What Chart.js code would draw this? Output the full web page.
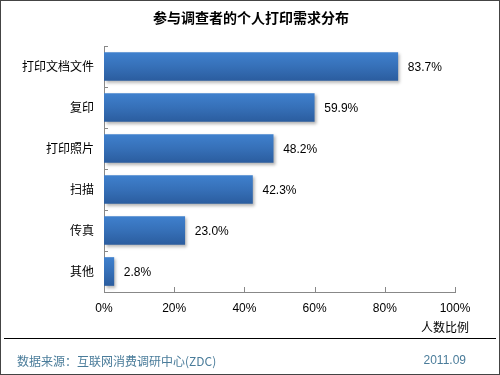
<!DOCTYPE html>
<html>
<head>
<meta charset="utf-8">
<script src="https://cdn.jsdelivr.net/npm/chart.js@4"></script>
<style>
  html, body { margin: 0; padding: 0; background: #fff; }
  #wrap { width: 500px; height: 375px; position: relative; }
</style>
</head>
<body>
<div id="wrap"><canvas id="myChart" width="500" height="375"></canvas></div>
<script>
// chart data
const categories = ['打印文档文件', '复印', '打印照片', '扫描', '传真', '其他'];
const shares = [83.7, 59.9, 48.2, 42.3, 23.0, 2.8];
const xTicks = [0, 20, 40, 60, 80, 100];

const chartTitle = '参与调查者的个人打印需求分布';
const axisName = '人数比例';
const sourceText = '数据来源：互联网消费调研中心(ZDC)';
const dateText = '2011.09';

const FONT = '"Liberation Sans", "Noto Sans CJK SC", sans-serif';
const CJK = '"Noto Sans CJK SC", "Liberation Sans", sans-serif';

// vertical gradient per bar
function barFill(ctx) {
  const chart = ctx.chart;
  const y = chart.scales && chart.scales.y;
  if (!chart.chartArea || !y || ctx.dataIndex === undefined) return '#3673bd';
  const mid = y.getPixelForValue(ctx.dataIndex);
  const g = chart.ctx.createLinearGradient(0, mid - 14, 0, mid + 14);
  g.addColorStop(0, '#3f80cd');
  g.addColorStop(0.5, '#3670b8');
  g.addColorStop(1, '#2b5d9f');
  return g;
}

// text, frame, inward ticks, value labels
const decor = {
  id: 'decor',
  beforeDatasetDraw(chart) {
    const c = chart.ctx;
    c.save();
    c.shadowColor = 'rgba(0,0,0,0.3)';
    c.shadowOffsetX = 2;
    c.shadowOffsetY = 2;
    c.shadowBlur = 3;
  },
  afterDatasetDraw(chart) {
    chart.ctx.restore();
  },
  afterDraw(chart) {
    const c = chart.ctx;
    const area = chart.chartArea;
    const xs = chart.scales.x, ys = chart.scales.y;
    c.save();

    // inward tick marks
    c.strokeStyle = '#888';
    c.lineWidth = 1;
    c.beginPath();
    xTicks.forEach(v => {
      const px = Math.round(xs.getPixelForValue(v)) + 0.5;
      c.moveTo(px, area.bottom);
      c.lineTo(px, area.bottom - 5);
    });
    for (let i = 0; i <= categories.length; i++) {
      const py = Math.round(area.top + i * (area.bottom - area.top) / categories.length) + 0.5;
      c.moveTo(area.left, py);
      c.lineTo(area.left + 4, py);
    }
    c.stroke();

    // value labels
    c.fillStyle = '#000';
    c.font = '12px ' + FONT;
    c.textAlign = 'left';
    c.textBaseline = 'middle';
    const meta = chart.getDatasetMeta(0);
    meta.data.forEach((bar, i) => {
      c.fillText(shares[i].toFixed(1) + '%', bar.x + 10, bar.y + 1);
    });

    // title
    c.font = 'bold 14px ' + CJK;
    c.textAlign = 'center';
    c.fillText(chartTitle, 251, 18);

    // axis name
    c.font = '12px ' + CJK;
    c.textAlign = 'right';
    c.fillText(axisName, 469, 327);

    // separator
    c.strokeStyle = '#000';
    c.beginPath();
    c.moveTo(4, 338.5);
    c.lineTo(496, 338.5);
    c.stroke();

    // footer
    c.fillStyle = '#4a7c9a';
    c.textAlign = 'left';
    c.fillText(sourceText, 17, 361);
    c.textAlign = 'right';
    c.font = '12px ' + FONT;
    c.fillText(dateText, 466, 361);

    // outer frame
    c.strokeStyle = '#444';
    c.strokeRect(0.5, 0.5, 499, 374);
    c.restore();
  }
};

new Chart(document.getElementById('myChart'), {
  type: 'bar',
  data: {
    labels: categories,
    datasets: [{
      data: shares,
      backgroundColor: barFill,
      borderWidth: 0,
      barThickness: 28
    }]
  },
  options: {
    indexAxis: 'y',
    responsive: false,
    animation: false,
    events: [],
    layout: { padding: { top: 46, right: 45, bottom: 0, left: 0 } },
    plugins: { legend: { display: false }, tooltip: { enabled: false } },
    scales: {
      x: {
        min: 0,
        max: 100,
        afterFit(scale) { scale.height = 83; },
        afterBuildTicks(scale) { scale.ticks = xTicks.map(v => ({ value: v })); },
        grid: { display: false, drawTicks: false },
        border: { display: true, color: '#888' },
        ticks: {
          padding: 9,
          color: '#000',
          font: { family: FONT, size: 12 },
          maxRotation: 0,
          callback: v => v + '%'
        }
      },
      y: {
        afterFit(scale) { scale.width = 104; },
        grid: { display: false, drawTicks: false },
        border: { display: true, color: '#888' },
        ticks: {
          padding: 10,
          color: '#000',
          font: { family: CJK, size: 12 }
        }
      }
    }
  },
  plugins: [decor]
});
</script>
</body>
</html>
